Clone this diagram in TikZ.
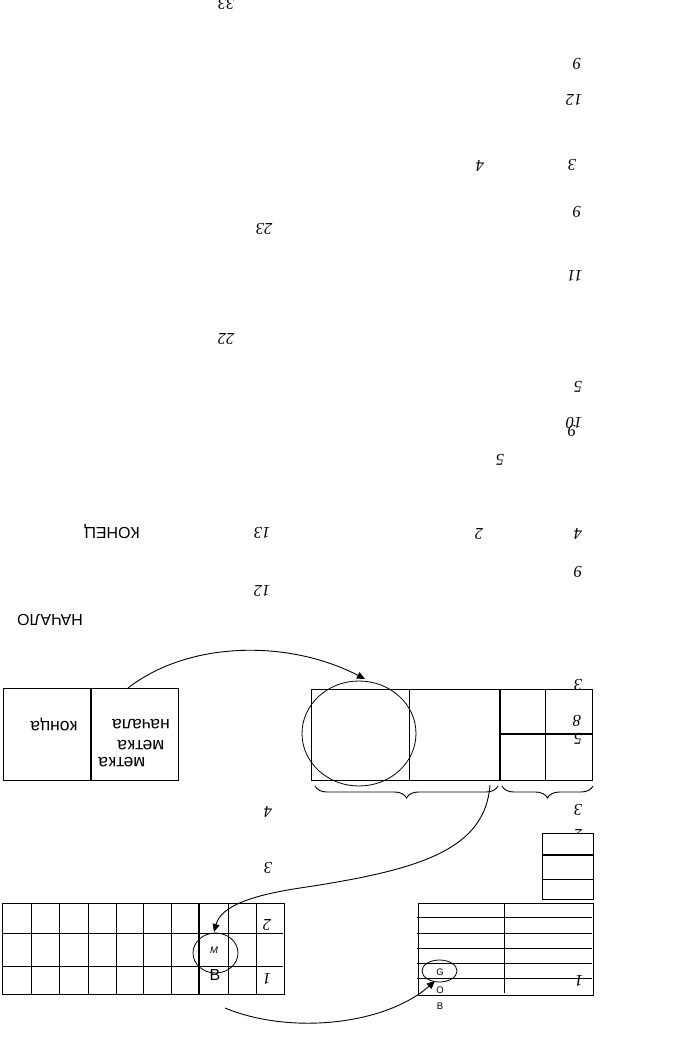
\documentclass[tikz,border=0pt]{standalone}
\usepackage{fontspec}
\setmainfont{Liberation Sans}
\newfontfamily\serf{Liberation Serif}
\usetikzlibrary{decorations.pathreplacing,arrows.meta,shapes.geometric}
\begin{document}
\begin{tikzpicture}[x=1pt,y=-1pt,line width=1.1pt,
  ud/.style={rotate=180,inner sep=0pt},
  num/.style={ud,font=\serf\itshape\fontsize{16.5}{16.5}\selectfont},
  lbl/.style={ud,font=\fontsize{17.5}{17.5}\selectfont},
  capword/.style={ud,font=\fontsize{16}{16}\selectfont},
  smalltxt/.style={inner sep=0pt,font=\fontsize{9.5}{9.5}\selectfont},
  box/.style={draw,inner sep=0pt,anchor=north west},
  oval/.style={draw,ellipse,inner sep=0pt,line width=0.8pt},
  arr/.style={line width=0.9pt,-{Triangle[length=8pt,width=7pt]}},
  brc/.style={line width=0.9pt,decorate,decoration={brace,mirror,amplitude=12pt}}]
\useasboundingbox (0,0) rectangle (679,1040);

% ---- scattered upside-down numbers ----
\node[num] (n33) at (226,4) {33};
\node[num] (n9a) at (577,64) {9};
\node[num] (n12a) at (574,100) {12};
\node[num] (n4a) at (480,166) {4};
\node[num] (n3a) at (572,165) {3};
\node[num] (n9b) at (577,212) {9};
\node[num] (n23) at (264,229) {23};
\node[num] (n11) at (575,276) {11};
\node[num] (n22) at (226,339) {22};
\node[num] (n5a) at (578,387) {5};
\node[num] (n10) at (574,423) {10};
\node[num] (n9c) at (572,431) {9};
\node[num] (n5b) at (500,460) {5};
\node[capword] (kon) at (112,531) {КОНЕЦ};
\node[num] (n13) at (262,533) {13};
\node[num] (n2a) at (479,534) {2};
\node[num] (n4b) at (578,534) {4};
\node[num] (n9d) at (578,572) {9};
\node[num] (n12b) at (262,591) {12};
\node[capword] (nach) at (50,620) {НАЧАЛО};
\node[num] (n3b) at (578,685) {3};
\node[num] (n8) at (577,721) {8};
\node[num] (n5c) at (578,739) {5};
\node[num] (n3c) at (578,810) {3};
\node[num] (n4c) at (268,812) {4};
\node[num] (n3d) at (268,868) {3};
\node[num] (n2b) at (578,835) {2};

% ---- left box: labels ----
\node[box,minimum width=175,minimum height=92] (lbox) at (3,688) {};
\draw (91,688) -- (91,780);
\node[lbl] (l1) at (141,724) {начала};
\node[lbl] (l2) at (141,745) {метка};
\node[lbl] (l3) at (122,762) {метка};
\node[lbl] (l4) at (54,724) {конца};

% ---- middle box ----
\node[box,minimum width=281,minimum height=91] (mbox) at (310.5,689) {};
\draw (409.5,689) -- (409.5,780);
\draw (500,689) -- (500,780);
\draw (545.5,689) -- (545.5,780);
\draw (500,734) -- (591.5,734);
\node[oval,minimum width=114,minimum height=105] (circ) at (359,733.5) {};
\draw[brc] (315,786) -- (498,786);
\draw[brc] (502,786) -- (593,786);

% ---- small stacked box ----
\node[box,fill=white,minimum width=51,minimum height=66] (sbox) at (542.3,833.3) {};
\draw (542.3,855) -- (593.3,855);
\draw (542.3,879.3) -- (593.3,879.3);

% ---- lower left grid ----
\node[box,minimum width=282,minimum height=91] (grid) at (1.5,903) {};
\foreach \x in {31.5,59.3,88.3,116.7,143.3,171.7,199,228.3,256.7}
  \draw (\x,903) -- (\x,994);
\draw (3,933.5) -- (283,933.5);
\draw (3,966.5) -- (283,966.5);
\node[num] (g2) at (267,925) {2};
\node[num] (g1) at (267,979) {1};
\node[oval,minimum width=45,minimum height=40] (mo) at (215.5,953) {};
\node[smalltxt,font=\itshape\fontsize{9.5}{9.5}\selectfont] (mm) at (214,950) {M};
\node[inner sep=0pt,font=\fontsize{16}{16}\selectfont] (bb) at (215,975) {B};

% ---- lower right table ----
\node[box,minimum width=175,minimum height=92] (tab) at (418.3,903.3) {};
\draw (504.5,903.3) -- (504.5,993);
\foreach \y in {917.3,933.3,948.3,963.3,978.3}
  \draw (416.5,\y) -- (592,\y);
\node[num] (t1) at (579,981) {1};
\node[oval,minimum width=35,minimum height=22] (go) at (439.5,971) {};
\node[smalltxt] (gg) at (440,972) {G};
\node[smalltxt] (oo) at (440,990) {O};
\node[smalltxt] (b2) at (440,1006) {B};

% ---- connectors ----
\coordinate (s1) at (128,688);
\coordinate (e1) at (365,679);
\draw[arr] (s1) .. controls (190,640) and (290,640) .. (e1);
\coordinate (s2) at (490,785);
\coordinate (m2) at (300,888);
\coordinate (e2) at (214,932);
\draw[arr] (s2) .. controls (485,850) and (420,870) .. (m2)
  .. controls (240,897) and (220,910) .. (e2);
\coordinate (s3) at (225,1008);
\coordinate (e3) at (435,981);
\draw[arr] (s3) .. controls (290,1035) and (385,1025) .. (e3);
\end{tikzpicture}
\end{document}
